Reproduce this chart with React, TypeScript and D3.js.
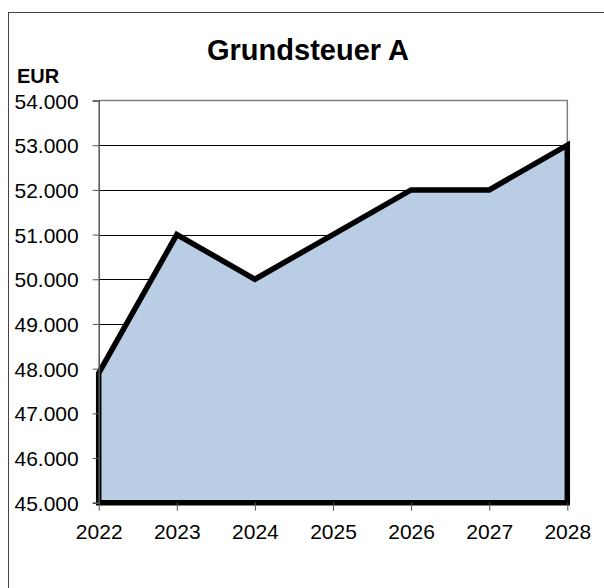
import * as d3 from 'd3';
import React, { useRef, useEffect } from 'react';

const years = ['2022', '2023', '2024', '2025', '2026', '2027', '2028']
const values = [47900, 51000, 50000, 51000, 52000, 52000, 53000]
const yTicks = [45000, 46000, 47000, 48000, 49000, 50000, 51000, 52000, 53000, 54000]

const title = 'Grundsteuer A'
const unit = 'EUR'

const App = () => {
    const ref = useRef<SVGSVGElement | null>(null)

    const W = 604
    const H = 588
    const plot = { left: 98.7, right: 567.3, top: 100.5, bottom: 502.7 }
    const font = '"Liberation Sans", Arial, sans-serif'

    useEffect(() => {
        const svg = d3.select(ref.current)
        svg.selectAll('*').remove()

        // outer chart border (only left/top visible)
        svg.append('rect')
            .attr('x', 8.5)
            .attr('y', 12.5)
            .attr('width', 700)
            .attr('height', 700)
            .attr('fill', 'none')
            .attr('stroke', '#444')
            .attr('stroke-width', 1)

        const x = d3.scalePoint()
            .domain(years)
            .range([plot.left, plot.right])

        const y = d3.scaleLinear()
            .domain([45000, 54000])
            .range([plot.bottom, plot.top])

        const locale = d3.formatLocale({ decimal: ',', thousands: '.', grouping: [3], currency: ['', ' €'] })
        const fmt = locale.format(',')

        // gridlines
        svg.append('g')
            .selectAll('line')
            .data(yTicks.filter(d => d > 45000 && d < 54000))
            .enter().append('line')
            .attr('x1', plot.left)
            .attr('x2', plot.right)
            .attr('y1', d => Math.round(y(d)) + 0.5)
            .attr('y2', d => Math.round(y(d)) + 0.5)
            .attr('stroke', '#000')
            .attr('stroke-width', 1)

        // plot frame top & right
        svg.append('path')
            .attr('d', `M${plot.left},${plot.top}H${plot.right}V${plot.bottom}`)
            .attr('fill', 'none')
            .attr('stroke', '#808080')
            .attr('stroke-width', 1.5)

        const data = years.map((yr, i) => ({ year: yr, value: values[i] }))

        const area = d3.area<{ year: string, value: number }>()
            .x(d => x(d.year) as number)
            .y0(y(45000))
            .y1(d => y(d.value))

        svg.append('path')
            .datum(data)
            .attr('d', d => area(d) + '')
            .attr('fill', '#b9cde5')
            .attr('stroke', '#000')
            .attr('stroke-width', 5.5)
            .attr('stroke-linejoin', 'miter')

        // y axis
        const yAxis = svg.append('g')
            .attr('transform', `translate(${plot.left},0)`)
            .call(d3.axisLeft(y).tickValues(yTicks).tickSize(6).tickPadding(14).tickFormat(d => fmt(d as number)))
        yAxis.select('.domain').attr('stroke', '#555').attr('stroke-width', 1.5)
        yAxis.selectAll('.tick line').attr('stroke', '#555')
        yAxis.selectAll('text')
            .attr('font-family', font)
            .attr('font-size', 21)
            .attr('fill', '#000')
            .attr('dy', '0.36em')

        // x axis
        const xAxis = svg.append('g')
            .attr('transform', `translate(0,${plot.bottom})`)
            .call(d3.axisBottom(x).tickSize(8).tickSizeOuter(0).tickPadding(13))
        xAxis.select('.domain').remove()
        xAxis.selectAll('.tick line').attr('stroke', '#555')
        xAxis.selectAll('text')
            .attr('font-family', font)
            .attr('font-size', 21)
            .attr('fill', '#000')
            .attr('dy', '0.71em')

        svg.append('text')
            .attr('x', 308)
            .attr('y', 60)
            .attr('text-anchor', 'middle')
            .attr('font-family', font)
            .attr('font-weight', 'bold')
            .attr('font-size', 29)
            .text(title)

        svg.append('text')
            .attr('x', 17)
            .attr('y', 83)
            .attr('font-family', font)
            .attr('font-weight', 'bold')
            .attr('font-size', 20)
            .text(unit)
    }, [])

    return (
        <svg ref={ref} width={W} height={H}
            style={{ position: 'absolute', left: 0, top: 0, background: '#fff' }} />
    )
}

export default App
